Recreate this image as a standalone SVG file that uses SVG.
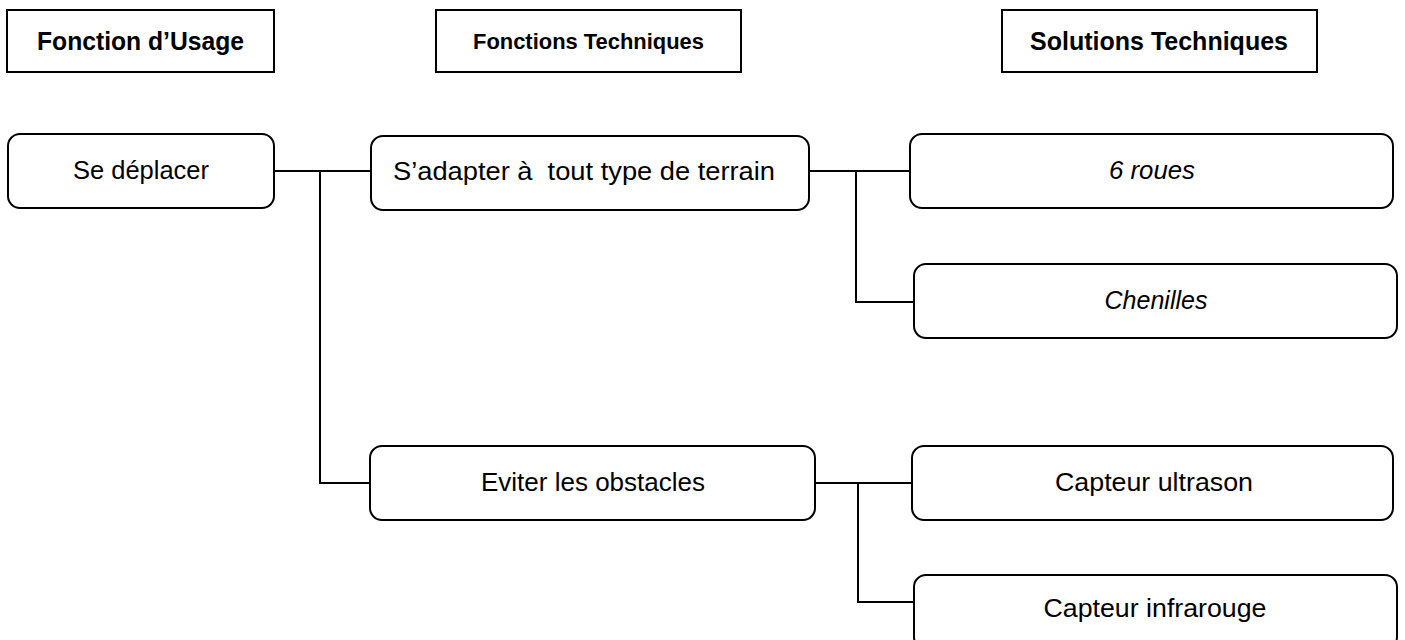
<svg xmlns="http://www.w3.org/2000/svg" width="1405" height="640" viewBox="0 0 1405 640">
<style>
.hdr{fill:#fff;stroke:#000;stroke-width:2}
.node{fill:#fff;stroke:#000;stroke-width:2}
.t{font-family:"Liberation Sans",Arial,sans-serif;font-size:25px;fill:#000;text-anchor:middle;white-space:pre}
.b{font-weight:bold}
.i{font-style:italic}
.conn{fill:none;stroke:#000;stroke-width:2}
</style>
<rect width="1405" height="640" fill="#fff"/>
<g id="h1"><rect class="hdr" x="7" y="10" width="267" height="62"/><text class="t b" x="140.5" y="50" textLength="207" lengthAdjust="spacingAndGlyphs">Fonction d’Usage</text></g>
<g id="h2"><rect class="hdr" x="436" y="10" width="305" height="62"/><text class="t b" x="588.5" y="49" style="font-size:22px" textLength="231" lengthAdjust="spacingAndGlyphs">Fonctions Techniques</text></g>
<g id="h3"><rect class="hdr" x="1002" y="10" width="315" height="62"/><text class="t b" x="1159" y="50" textLength="258" lengthAdjust="spacingAndGlyphs">Solutions Techniques</text></g>
<g id="connectors">
<path class="conn" d="M274 171H371M320 171V483H371"/>
<path class="conn" d="M809 171H910M856 171V302H914"/>
<path class="conn" d="M815 483H912M858 483V602H914"/>
</g>
<g id="n1"><rect class="node" x="8" y="134" width="266" height="74" rx="12"/><text class="t" x="141" y="179" textLength="136" lengthAdjust="spacingAndGlyphs">Se déplacer</text></g>
<g id="n2"><rect class="node" x="371" y="136" width="438" height="74" rx="12"/><text class="t" x="584" y="180" textLength="382" lengthAdjust="spacingAndGlyphs">S’adapter à  tout type de terrain</text></g>
<g id="n3"><rect class="node" x="370" y="446" width="445" height="74" rx="12"/><text class="t" x="593" y="491" textLength="224" lengthAdjust="spacingAndGlyphs">Eviter les obstacles</text></g>
<g id="n4"><rect class="node" x="910" y="134" width="483" height="74" rx="12"/><text class="t i" x="1152" y="179" textLength="86" lengthAdjust="spacingAndGlyphs">6 roues</text></g>
<g id="n5"><rect class="node" x="914" y="264" width="483" height="74" rx="12"/><text class="t i" x="1156" y="309" textLength="103" lengthAdjust="spacingAndGlyphs">Chenilles</text></g>
<g id="n6"><rect class="node" x="912" y="446" width="481" height="74" rx="12"/><text class="t" x="1154" y="491" textLength="198" lengthAdjust="spacingAndGlyphs">Capteur ultrason</text></g>
<g id="n7"><rect class="node" x="914" y="575" width="483" height="74" rx="12"/><text class="t" x="1155" y="617" textLength="223" lengthAdjust="spacingAndGlyphs">Capteur infrarouge</text></g>
</svg>
